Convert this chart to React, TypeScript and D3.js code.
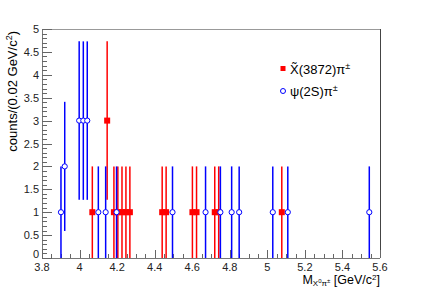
import React from 'react';
import * as d3 from 'd3';

const WIDTH = 423;
const HEIGHT = 288;
const margin = { l: 42, r: 43, t: 29, b: 30 };

// X~(3872)pi+- candidates
const redMass = [4.068, 4.147, 4.183, 4.204, 4.226, 4.247, 4.268, 4.44, 4.461, 4.601, 4.623, 4.72, 4.741, 5.077];
const redCounts = [1, 3, 1, 1, 1, 1, 1, 1, 1, 1, 1, 1, 1, 1];
const redErr = [1, 1.73, 1, 1, 1, 1, 1, 1, 1, 1, 1, 1, 1, 1];

// psi(2S)pi+- candidates
const blueMass = [3.901, 3.921, 3.998, 4.02, 4.041, 4.1, 4.139, 4.197, 4.495, 4.671, 4.75, 4.81, 4.85, 5.029, 5.109, 5.543];
const blueCounts = [1, 2, 3, 3, 3, 1, 1, 1, 1, 1, 1, 1, 1, 1, 1, 1];
const blueErr = [1, 1.41, 1.73, 1.73, 1.73, 1, 1, 1, 1, 1, 1, 1, 1, 1, 1, 1];

const xTicks = [3.8, 4.0, 4.2, 4.4, 4.6, 4.8, 5.0, 5.2, 5.4, 5.6];
const yTicks = [0, 0.5, 1, 1.5, 2, 2.5, 3, 3.5, 4, 4.5, 5];

const RED = '#ff0000';
const BLUE = '#0000ff';
const FONT = '"Liberation Sans", Arial, Helvetica, sans-serif';

const App = () => {
  const w = WIDTH - margin.l - margin.r;
  const h = HEIGHT - margin.t - margin.b;

  const x = d3.scaleLinear().domain([3.8, 5.6]).range([0, w]);
  const y = d3.scaleLinear().domain([0, 5]).range([h, 0]);

  const xMinor = d3.range(3.8, 5.6001, 0.05);
  const yMinor = d3.range(0, 5.0001, 0.1);

  const fmt = (v: number) => String(+v.toFixed(1));

  return (
    <svg
      width={WIDTH}
      height={HEIGHT}
      style={{ position: 'absolute', left: 0, top: 0, background: '#fff' }}
      fontFamily={FONT}
    >
      <rect x={0} y={0} width={WIDTH} height={HEIGHT} fill="#fff" />
      <g transform={`translate(${margin.l}, ${margin.t})`}>
        {/* frame */}
        <line x1={0} x2={w} y1={0.5} y2={0.5} stroke="#999" />
        <line x1={w + 0.5} x2={w + 0.5} y1={0} y2={h} stroke="#444" />
        <line x1={0.5} x2={0.5} y1={0} y2={h} stroke="#777" />
        <line x1={0} x2={w} y1={h + 0.5} y2={h + 0.5} stroke="#777" />

        {/* y ticks */}
        {yMinor.map((v, i) => (
          <line
            key={`ym-${i}`}
            x1={0}
            x2={i % 5 === 0 ? 10 : 5}
            y1={Math.round(y(v)) + 0.5}
            y2={Math.round(y(v)) + 0.5}
            stroke="#666"
          />
        ))}
        {yTicks.map((v) => (
          <text key={`yl-${v}`} x={-3} y={y(v) + (v === 0 ? 0 : 4)} fontSize={11} textAnchor="end" fill="#222">
            {fmt(v)}
          </text>
        ))}

        {/* x ticks */}
        {xMinor.map((v, i) => (
          <line
            key={`xm-${i}`}
            x1={Math.round(x(v)) + 0.5}
            x2={Math.round(x(v)) + 0.5}
            y1={h}
            y2={h - (i % 4 === 0 ? 8 : 4)}
            stroke="#666"
          />
        ))}
        {xTicks.map((v) => (
          <text key={`xl-${v}`} x={x(v)} y={h + 12.5} fontSize={11} textAnchor="middle" fill="#222">
            {fmt(v)}
          </text>
        ))}

        {/* red points */}
        {redMass.map((m, i) => (
          <line
            key={`re-${i}`}
            x1={x(m)}
            x2={x(m)}
            y1={y(Math.max(0, redCounts[i] - redErr[i]))}
            y2={y(redCounts[i] + redErr[i])}
            stroke={RED}
            strokeWidth={1.5}
          />
        ))}
        {redMass.map((m, i) => (
          <rect key={`rm-${i}`} x={x(m) - 3} y={y(redCounts[i]) - 3} width={6} height={6} fill={RED} />
        ))}

        {/* blue points */}
        {blueMass.map((m, i) => (
          <line
            key={`be-${i}`}
            x1={x(m)}
            x2={x(m)}
            y1={y(Math.max(0, blueCounts[i] - blueErr[i]))}
            y2={y(blueCounts[i] + blueErr[i])}
            stroke={BLUE}
            strokeWidth={1.5}
          />
        ))}
        {blueMass.map((m, i) => (
          <circle key={`bm-${i}`} cx={x(m)} cy={y(blueCounts[i])} r={2.6} fill="#fff" stroke={BLUE} strokeWidth={1} />
        ))}

        {/* legend */}
        <rect x={238.5} y={37} width={5} height={5} fill={RED} />
        <text x={248} y={45} fontSize={13} fill="#000">
          X̃(3872)π<tspan fontSize={9} dy={-5}>±</tspan>
        </text>
        <circle cx={241} cy={62} r={2.5} fill="#fff" stroke={BLUE} />
        <text x={248} y={67} fontSize={13} fill="#000">
          ψ(2S)π<tspan fontSize={9} dy={-5}>±</tspan>
        </text>

        {/* axis titles */}
        <text x={w} y={h + 26} fontSize={12.5} textAnchor="end" fill="#000">
          M
          <tspan fontSize={8} dy={2}>X</tspan>
          <tspan fontSize={6} dy={-3}>0</tspan>
          <tspan fontSize={8} dy={3}>π</tspan>
          <tspan fontSize={6} dy={-3}>±</tspan>
          <tspan dy={1}> [GeV/c</tspan>
          <tspan fontSize={8} dy={-4}>2</tspan>
          <tspan dy={4}>]</tspan>
        </text>
        <text transform={`translate(${-margin.l + 17}, 2) rotate(-90)`} fontSize={13} textAnchor="end" fill="#000">
          counts/(0.02 GeV/c<tspan fontSize={9} dy={-5}>2</tspan>
          <tspan dy={5}>)</tspan>
        </text>
      </g>
    </svg>
  );
};

export default App;
